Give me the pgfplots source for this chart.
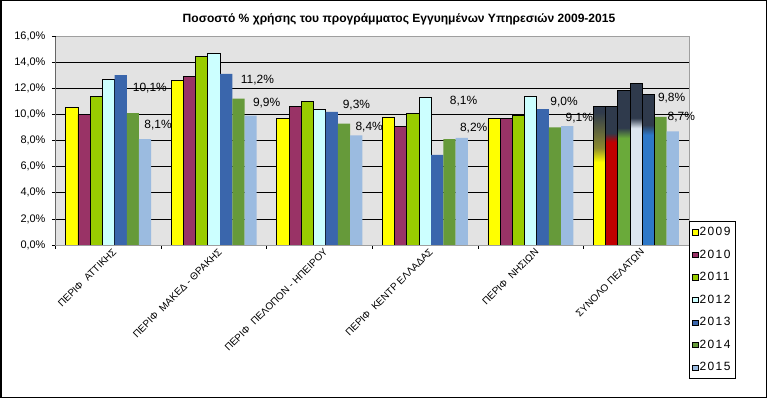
\documentclass[border=0pt]{standalone}
\usepackage{pgfplots}
\pgfplotsset{compat=1.18}
\usepackage{fontspec}
\setmainfont{Liberation Sans}
\newfontfamily\legfont[LetterSpace=12]{Liberation Sans}

\definecolor{c2009}{HTML}{FFFF00}
\definecolor{c2010}{HTML}{993366}
\definecolor{c2011}{HTML}{99CC00}
\definecolor{c2012}{HTML}{CCFFFF}
\definecolor{c2013}{HTML}{3A66AC}
\definecolor{c2014}{HTML}{669A3A}
\definecolor{c2015}{HTML}{9BBBE0}
\definecolor{plotbg}{HTML}{E3E3E3}
\definecolor{dk}{HTML}{2F3A4C}
\definecolor{olv}{HTML}{8C8A2E}
\definecolor{s2010}{HTML}{C00000}
\definecolor{s2011}{HTML}{6AAA3A}
\definecolor{s2012}{HTML}{DDE6F0}
\definecolor{s2013}{HTML}{2E78C8}

\pgfdeclareverticalshading{sh2009}{100bp}{color(0bp)=(c2009); color(55bp)=(c2009); color(60bp)=(olv); color(73bp)=(dk); color(100bp)=(dk)}
\pgfdeclareverticalshading{sh2010}{100bp}{color(0bp)=(s2010); color(62.2bp)=(s2010); color(65.4bp)=(dk); color(100bp)=(dk)}
\pgfdeclareverticalshading{sh2011}{100bp}{color(0bp)=(s2011); color(59.7bp)=(s2011); color(63bp)=(dk); color(100bp)=(dk)}
\pgfdeclareverticalshading{sh2012}{100bp}{color(0bp)=(s2012); color(61.1bp)=(s2012); color(64.2bp)=(dk); color(100bp)=(dk)}
\pgfdeclareverticalshading{sh2013}{100bp}{color(0bp)=(s2013); color(61.7bp)=(s2013); color(65bp)=(dk); color(100bp)=(dk)}

\pgfplotstableread{
x y xs ys
0 10.1 41.4 16.5
1 11.2 43.4 10.5
2 9.3 36.9 10
3 8.1 38.4 29.5
4 9.0 33.4 16.5
5 9.8 35.4 10.5
}\tabA
\pgfplotstableread{
x y xs ys
0 8.1 49.6 5.5
1 9.9 52.6 4.5
2 8.4 49.6 -0.5
3 8.2 48.6 1.5
4 9.1 48.6 -0.5
5 8.7 45.1 5.5
}\tabB

\begin{document}
\begin{tikzpicture}
\begin{axis}[
  at={(55.7bp,153bp)}, anchor=south west,
  scale only axis, width=633.3bp, height=209bp,
  xmin=-0.5, xmax=5.5, ymin=0, ymax=16,
  axis background/.style={fill=plotbg},
  axis line style={draw=gray!75, line width=0.6bp},
  ytick={0,2,4,6,8,10,12,14},
  yticklabel={\pgfmathprintnumber[fixed,fixed zerofill,precision=1,use comma]{\tick}\%},
  extra y ticks={16},
  extra y tick style={ymajorgrids=false},
  ymajorgrids, grid style={black, line width=0.7bp},
  tick align=outside, major tick length=3.7bp,
  tick style={black, line width=0.7bp},
  xtick pos=bottom, ytick pos=left,
  xtick={-0.5,0.5,1.5,2.5,3.5,4.5,5.5}, xticklabels={},
  extra x ticks={0,1,2,3,4,5},
  extra x tick labels={{ΠΕΡΙΦ\ \ ΑΤΤΙΚΗΣ},{ΠΕΡΙΦ\ \ ΜΑΚΕΔ - ΘΡΑΚΗΣ},{ΠΕΡΙΦ\ \ ΠΕΛΟΠΟΝ - ΗΠΕΙΡΟΥ},{ΠΕΡΙΦ\ \ ΚΕΝΤΡ ΕΛΛΑΔΑΣ},{ΠΕΡΙΦ\ \ ΝΗΣΙΩΝ},{ΣΥΝΟΛΟ ΠΕΛΑΤΩΝ}},
  extra x tick style={major tick length=0pt, tick label style={rotate=45, anchor=north east, font=\fontsize{10}{10}\selectfont, xshift=4bp, yshift=-1bp}},
  yticklabel style={font=\fontsize{11}{11}\selectfont, xshift=-3bp},
  legend style={at={(1.0,0.1148)}, anchor=north west, draw=black, line width=0.75bp,
    font=\legfont\fontsize{12}{12}\selectfont, row sep=8.7bp, inner xsep=3bp, inner ysep=4bp,
    nodes={inner xsep=1.5bp}},
  legend cell align=left,
  legend image code/.code={\draw[#1, line width=0.5bp] (0bp,-2.6bp) rectangle (5.2bp,2.6bp);},
  /pgf/number format/assume math mode=true,
]
% main series
\addplot[ybar, bar width=0.1156, bar shift=-0.3468, fill=c2009, draw=black, line width=0.9bp] coordinates {(0,10.5) (1,12.6) (2,9.7) (3,9.8) (4,9.7)};
\addlegendentry{2009}
\addplot[ybar, bar width=0.1156, bar shift=-0.2312, fill=c2010, draw=black, line width=0.9bp] coordinates {(0,10.0) (1,12.9) (2,10.6) (3,9.1) (4,9.7)};
\addlegendentry{2010}
\addplot[ybar, bar width=0.1156, bar shift=-0.1156, fill=c2011, draw=black, line width=0.9bp] coordinates {(0,11.4) (1,14.4) (2,11.0) (3,10.1) (4,9.9)};
\addlegendentry{2011}
\addplot[ybar, bar width=0.1156, bar shift=0, fill=c2012, draw=black, line width=0.9bp] coordinates {(0,12.7) (1,14.7) (2,10.4) (3,11.3) (4,11.4)};
\addlegendentry{2012}
\addplot[ybar, bar width=0.1156, bar shift=0.1156, fill=c2013, draw=none] coordinates {(0,13.0) (1,13.1) (2,10.2) (3,6.9) (4,10.4)};
\addlegendentry{2013}
\addplot[ybar, bar width=0.1156, bar shift=0.2312, fill=c2014, draw=none,
  visualization depends on={\thisrow{xs} \as \xs},
  visualization depends on={\thisrow{ys} \as \ys},
  nodes near coords={\pgfmathprintnumber[fixed,fixed zerofill,precision=1,use comma]{\pgfplotspointmeta}\%},
  every node near coord/.append style={font=\fontsize{12}{12}\selectfont, text=black, xshift=\xs bp, yshift=\ys bp}]
  table[x=x, y=y] {\tabA};
\addlegendentry{2014}
\addplot[ybar, bar width=0.1156, bar shift=0.3468, fill=c2015, draw=none,
  visualization depends on={\thisrow{xs} \as \xs},
  visualization depends on={\thisrow{ys} \as \ys},
  nodes near coords={\pgfmathprintnumber[fixed,fixed zerofill,precision=1,use comma]{\pgfplotspointmeta}\%},
  every node near coord/.append style={font=\fontsize{12}{12}\selectfont, text=black, xshift=\xs bp, yshift=\ys bp}]
  table[x=x, y=y] {\tabB};
\addlegendentry{2015}
% shaded total group
\addplot[ybar, forget plot, bar width=0.1156, bar shift=-0.3468, draw=black, line width=0.9bp, shade, shading=sh2009] coordinates {(5,10.6)};
\addplot[ybar, forget plot, bar width=0.1156, bar shift=-0.2312, draw=black, line width=0.9bp, shade, shading=sh2010] coordinates {(5,10.6)};
\addplot[ybar, forget plot, bar width=0.1156, bar shift=-0.1156, draw=black, line width=0.9bp, shade, shading=sh2011] coordinates {(5,11.8)};
\addplot[ybar, forget plot, bar width=0.1156, bar shift=0, draw=black, line width=0.9bp, shade, shading=sh2012] coordinates {(5,12.4)};
\addplot[ybar, forget plot, bar width=0.1156, bar shift=0.1156, draw=black, line width=0.9bp, shade, shading=sh2013] coordinates {(5,11.5)};
\draw[black, line width=0.75bp] (rel axis cs:0,0) -- (rel axis cs:0,1);
\end{axis}
\node[font=\bfseries\fontsize{12.1}{13}\selectfont] at (399bp,379bp) {Ποσοστό \% χρήσης του προγράμματος Εγγυημένων Υπηρεσιών 2009-2015};
\pgfresetboundingbox
\path[use as bounding box] (0,0) rectangle (767bp,398bp);
\draw[line width=1.5bp] (0.75bp,0.75bp) rectangle (766.25bp,397.25bp);
\end{tikzpicture}
\end{document}
